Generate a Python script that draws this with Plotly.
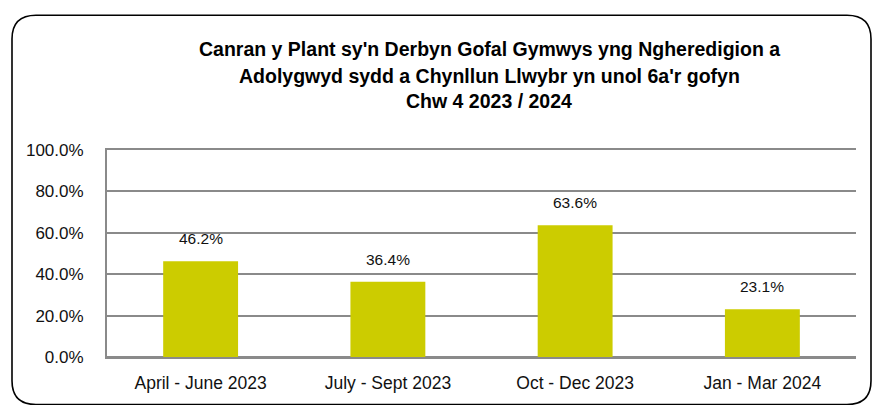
import plotly.graph_objects as go

categories = ["April - June 2023", "July - Sept 2023", "Oct - Dec 2023", "Jan - Mar 2024"]
values = [46.2, 36.4, 63.6, 23.1]
label_texts = ["46.2%", "36.4%", "63.6%", "23.1%"]
tick_vals = [0, 20, 40, 60, 80, 100]
tick_text = ["0.0%", "20.0%", "40.0%", "60.0%", "80.0%", "100.0%"]
title_lines = [
    "Canran y Plant sy'n Derbyn Gofal Gymwys yng Ngheredigion a",
    "Adolygwyd sydd a Chynllun Llwybr yn unol 6a'r gofyn",
    "Chw 4 2023 / 2024",
]

W, H = 873, 405
L, R, T, B = 107, 17, 150, 46
PW, PH = W - L - R, H - T - B

def px(x):
    return (x - L) / PW

def py(y):
    return (H - B - y) / PH

FONT = "Liberation Sans, Arial, sans-serif"
GRID = "#8a8a8a"

fig = go.Figure()
fig.add_trace(go.Bar(
    x=categories, y=values,
    marker=dict(color="#CCCC00", line=dict(width=0)),
    width=0.4,
    hoverinfo="skip",
))

annotations = []
for c, v, t in zip(categories, values, label_texts):
    annotations.append(dict(
        x=c, y=v, xref="x", yref="y", text=t, showarrow=False,
        yanchor="bottom", yshift=12,
        font=dict(family=FONT, size=15.5, color="#111111"),
    ))

title_y = [48, 75, 101]
for line, ty in zip(title_lines, title_y):
    annotations.append(dict(
        x=px(489), y=py(ty), xref="paper", yref="paper", text="<b>" + line + "</b>",
        showarrow=False, xanchor="center", yanchor="middle",
        font=dict(family=FONT, size=19.5, color="#000000"),
    ))

# rounded frame
x0, y0, x1, y1, r = px(12), py(14), px(871), py(407), 24
rx, ry = r / PW, r / PH
path = (
    f"M {x0+rx},{y0} L {x1-rx},{y0} Q {x1},{y0} {x1},{y0-ry} "
    f"L {x1},{y1+ry} Q {x1},{y1} {x1-rx},{y1} "
    f"L {x0+rx},{y1} Q {x0},{y1} {x0},{y1+ry} "
    f"L {x0},{y0-ry} Q {x0},{y0} {x0+rx},{y0} Z"
)

fig.update_layout(
    width=W, height=H,
    margin=dict(l=L, r=R, t=T, b=B, pad=0),
    paper_bgcolor="white", plot_bgcolor="white",
    showlegend=False,
    bargap=0.6,
    annotations=annotations,
    shapes=[dict(type="path", path=path, xref="paper", yref="paper",
                 line=dict(color="#000000", width=1.6), layer="above")],
    xaxis=dict(
        showgrid=False, zeroline=False,
        showline=True, mirror=True, linecolor=GRID, linewidth=2,
        ticks="outside", ticklen=9, tickcolor="rgba(0,0,0,0)",
        tickfont=dict(family=FONT, size=17.5, color="#111111"),
    ),
    yaxis=dict(
        range=[0, 100], tickvals=tick_vals, ticktext=tick_text,
        showgrid=True, gridcolor=GRID, gridwidth=2,
        showline=True, linecolor=GRID, linewidth=2,
        zeroline=True, zerolinecolor=GRID, zerolinewidth=2,
        ticks="outside", ticklen=18, tickcolor="rgba(0,0,0,0)",
        tickfont=dict(family=FONT, size=17, color="#111111"),
    ),
)

fig.write_html(
    "out.html",
    config={"displayModeBar": False, "staticPlot": True},
    post_script="document.body.style.margin='0';document.body.style.overflow='hidden';",
)
